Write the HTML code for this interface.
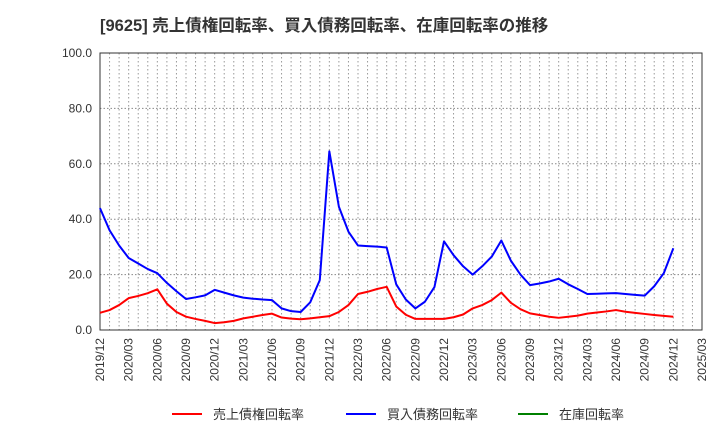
<!DOCTYPE html>
<html><head><meta charset="utf-8"><style>
body{margin:0;background:#fff;font-family:"Liberation Sans","Noto Sans CJK JP",sans-serif}
</style></head><body>
<svg width="720" height="440" xmlns="http://www.w3.org/2000/svg" id="svg" font-family="Liberation Sans, Noto Sans CJK JP, sans-serif">
<text x="100" y="31" font-size="16.5" font-weight="bold" fill="#333">[9625]  売上債権回転率、買入債務回転率、在庫回転率の推移</text>
<g id="grid"></g><g id="axes"></g><g id="series"></g>
<g font-size="13" fill="#333">
<line x1="172" y1="414" x2="202" y2="414" stroke="#ff0000" stroke-width="2"/><text x="213" y="419">売上債権回転率</text>
<line x1="346" y1="414" x2="376" y2="414" stroke="#0000ff" stroke-width="2"/><text x="387" y="419">買入債務回転率</text>
<line x1="518" y1="414" x2="548" y2="414" stroke="#008000" stroke-width="2"/><text x="559" y="419">在庫回転率</text>
</g>
</svg>
<script>
const yTicks=[0,20,40,60,80,100];
const xLabels=["2019/12","2020/03","2020/06","2020/09","2020/12","2021/03","2021/06","2021/09","2021/12","2022/03","2022/06","2022/09","2022/12","2023/03","2023/06","2023/09","2023/12","2024/03","2024/06","2024/09","2024/12","2025/03"];
const receivables=[6.2,7.2,9,11.5,12.3,13.3,14.7,9.5,6.5,4.8,4,3.3,2.5,2.8,3.3,4.2,4.8,5.4,5.9,4.5,4.1,3.9,4.2,4.6,5,6.5,9,13,13.8,14.8,15.6,8.5,5.5,4,4,4,4,4.6,5.6,7.8,9,10.8,13.5,9.8,7.5,6,5.4,4.8,4.4,4.8,5.2,5.9,6.3,6.7,7.2,6.6,6.2,5.8,5.4,5.1,4.8];
const payables=[44,36,30.5,26,24,22,20.5,17,14,11.2,11.8,12.5,14.5,13.5,12.5,11.7,11.3,11,10.8,7.8,6.8,6.5,10,18,64.5,44.5,35.5,30.5,30.3,30.1,29.8,16.5,11,7.8,10.2,15.5,32,27,23,20,23,26.5,32.3,25,20,16.2,16.8,17.5,18.5,16.5,14.8,13,13.1,13.2,13.3,13,12.7,12.4,15.8,20.5,29.5];
const inventory=[];
const X0=100,X1=702,Y0=330,Y1=53,NM=63;
const xs=i=>X0+(X1-X0)*i/NM, ys=v=>Y0-(Y0-Y1)*v/100;
const NS="http://www.w3.org/2000/svg";
function mk(t,a,p){const e=document.createElementNS(NS,t);for(const k in a)e.setAttribute(k,a[k]);p.appendChild(e);return e;}
const grid=document.getElementById('grid'),axes=document.getElementById('axes'),ser=document.getElementById('series');
for(let i=1;i<NM;i++){const l=mk('line',{x1:xs(i),x2:xs(i),y1:Y1,y2:Y0,stroke:'#999','stroke-dasharray':'1.5,2.5','stroke-width':1},grid);

}
yTicks.forEach(v=>{const l=mk('line',{x1:X0,x2:X1,y1:ys(v),y2:ys(v),stroke:'#888','stroke-dasharray':'1.5,2','stroke-width':1},grid);


const t=mk('text',{x:X0-8,y:ys(v)+4,'text-anchor':'end','font-size':12,fill:'#333'},axes);t.textContent=v.toFixed(1);

});
xLabels.forEach((s,i)=>{const x=xs(i*3)+4;const t=mk('text',{x:x,y:338,transform:`rotate(-90 ${x} 338)`,'text-anchor':'end','font-size':12,fill:'#333'},axes);t.textContent=s;

});
const fr=mk('rect',{x:X0,y:Y1,width:X1-X0,height:Y0-Y1,fill:'none',stroke:'#333','stroke-width':1},axes);


function line(d,c,n){if(!d.length)return;const p=mk('polyline',{points:d.map((v,i)=>xs(i)+','+ys(v)).join(' '),fill:'none',stroke:c,'stroke-width':2,'stroke-linejoin':'round'},ser);

}
line(receivables,'#ff0000','receivables-line');
line(payables,'#0000ff','payables-line');
line(inventory,'#008000','inventory-line');
</script>
</body></html>
